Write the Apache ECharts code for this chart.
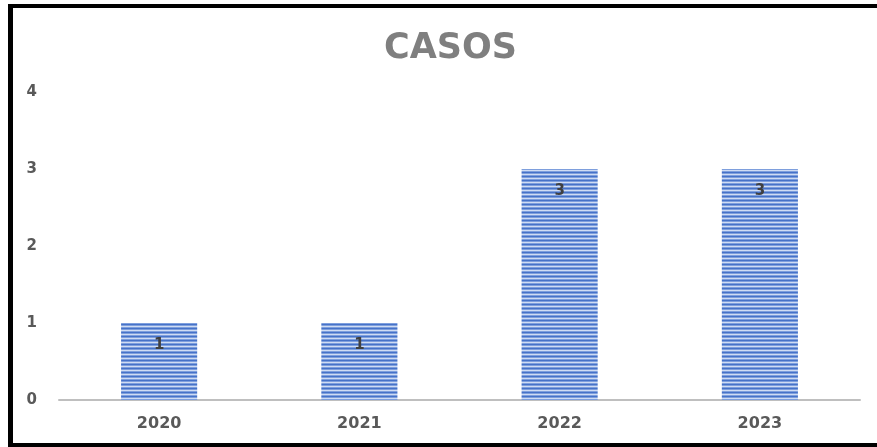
<!DOCTYPE html>
<html>
<head>
<meta charset="utf-8">
<script src="https://cdn.jsdelivr.net/npm/echarts@6/dist/echarts.min.js"></script>
<style>
html,body{margin:0;padding:0;background:#fff;}
#frame{position:absolute;left:8px;top:4px;width:900px;height:435px;border-left:5px solid #000;border-top:4px solid #000;border-bottom:4px solid #000;}
#main{position:absolute;left:0;top:0;width:877px;height:447px;}
</style>
</head>
<body>
<div id="frame"></div>
<div id="main"></div>
<script>
const titleText = 'CASOS';
const categories = ['2020', '2021', '2022', '2023'];
const values = [1, 1, 3, 3];
const yTicks = [0, 1, 2, 3, 4];

function stripePattern() {
  const c = document.createElement('canvas');
  c.width = 4; c.height = 4;
  const ctx = c.getContext('2d');
  const rows = ['#4672c8', '#7e9fdd', '#cfdcf3', '#7e9fdd'];
  rows.forEach((col, i) => { ctx.fillStyle = col; ctx.fillRect(0, i, 4, 1); });
  return c;
}

const chart = echarts.init(document.getElementById('main'), null, {renderer: 'canvas'});
chart.setOption({
  backgroundColor: 'transparent',
  animation: false,
  title: {
    text: titleText,
    left: 379,
    top: 26,
    textStyle: {fontFamily: 'DejaVu Sans', fontWeight: 'bold', fontSize: 35, color: '#7f7f7f'}
  },
  grid: {left: 59, right: 17, top: 92, bottom: 47, containLabel: false},
  xAxis: {
    type: 'category',
    data: categories,
    axisLine: {lineStyle: {color: '#bfbfbf', width: 2}},
    axisTick: {show: false},
    axisLabel: {fontFamily: 'DejaVu Sans', fontWeight: 'bold', fontSize: 16, color: '#595959', margin: 16}
  },
  yAxis: {
    type: 'value',
    min: yTicks[0],
    max: yTicks[yTicks.length - 1],
    interval: 1,
    splitLine: {show: false},
    axisLine: {show: false},
    axisTick: {show: false},
    axisLabel: {fontFamily: 'DejaVu Sans', fontWeight: 'bold', fontSize: 15, color: '#595959', margin: 22}
  },
  series: [{
    type: 'bar',
    data: values,
    barWidth: '38%',
    itemStyle: {color: {image: stripePattern(), repeat: 'repeat'}},
    label: {
      show: true,
      position: 'insideTop',
      distance: 15,
      fontFamily: 'DejaVu Sans',
      fontWeight: 'bold',
      fontSize: 15,
      color: '#404040'
    }
  }]
});
</script>
</body>
</html>
